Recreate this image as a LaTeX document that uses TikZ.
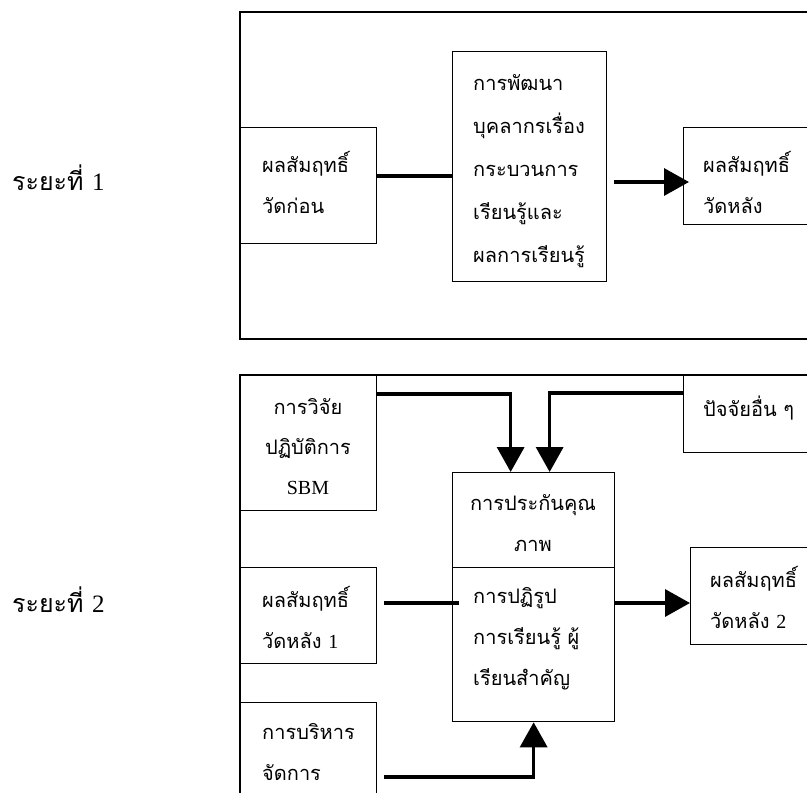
\documentclass[tikz,border=0pt]{standalone}
\usepackage{fontspec}
\setmainfont{Liberation Serif}
\newfontfamily\thaifont[Script=Thai]{Loma}
\usetikzlibrary{arrows.meta}
\tikzset{
  box/.style={draw, line width=1.3pt, inner sep=0pt, anchor=north west},
  txt/.style={font=\thaifont\fontsize{20}{41}\selectfont, align=left, inner sep=0pt},
  txtc/.style={txt, align=center},
  lbl/.style={font=\thaifont\fontsize{25}{28}\selectfont, inner sep=0pt, anchor=base west},
  frame/.style={line width=1.3pt},
  conn/.style={line width=3.5pt},
  arr/.style={conn, -{Triangle[length=25pt,width=27pt]}},
}
\begin{document}
\begin{tikzpicture}[x=1pt,y=-1pt]
\useasboundingbox (0,0) rectangle (807,793);
\clip (0,0) rectangle (807,793);

% stage labels
\node[lbl] (lab1) at (12,190) {ระยะที่ {\rmfamily 1}};
\node[lbl] (lab2) at (12,612) {ระยะที่ {\rmfamily 2}};

% ---------- stage 1 ----------
\draw[frame] (240,12) rectangle (830,339);
\node[box, minimum width=136pt, minimum height=116pt] (b1) at (240,127) {};
\node[box, minimum width=154pt, minimum height=230pt] (m1) at (452,51) {};
\node[box, minimum width=147pt, minimum height=97pt] (r1) at (683,127) {};

\node[txt, anchor=west] (tb1) at (262,182.5) {ผลสัมฤทธิ์\\วัดก่อน};
\node[txt, anchor=west, font=\thaifont\fontsize{20}{43}\selectfont] (tm1) at (473,171) {การพัฒนา\\บุคลากรเรื่อง\\กระบวนการ\\เรียนรู้และ\\ผลการเรียนรู้};
\node[txt, anchor=west] (tr1) at (703,182.5) {ผลสัมฤทธิ์\\วัดหลัง};

\draw[conn] (b1.east |- 0,176) -- (m1.west |- 0,176);
\draw[arr] ([xshift=7pt]m1.east |- 0,182) -- ([xshift=6pt]r1.west |- 0,182);

% ---------- stage 2 ----------
\draw[frame] (830,375) -- (240,375) -- (240,830);
\node[box, minimum width=136pt, minimum height=135pt] (sbm) at (240,375) {};
\node[box, minimum width=147pt, minimum height=77pt] (oth) at (683,375) {};
\node[box, minimum width=162pt, minimum height=95pt] (mtop) at (452,472) {};
\node[box, minimum width=162pt, minimum height=154pt] (mbot) at (452,567) {};
\node[box, minimum width=136pt, minimum height=96pt] (h1) at (240,567) {};
\node[box, minimum width=140pt, minimum height=97pt] (h2) at (690,547) {};
\node[box, minimum width=136pt, minimum height=130pt] (mg) at (240,702) {};

\node[txtc, font=\thaifont\fontsize{20}{40}\selectfont] (tsbm) at (308,447) {การวิจัย\\ปฏิบัติการ\\{\rmfamily SBM}};
\node[txt, anchor=west] (toth) at (703,408) {ปัจจัยอื่น ๆ};
\node[txtc] (tmtop) at (533,523) {การประกันคุณ\\ภาพ};
\node[txt, anchor=west] (tmbot) at (473,639) {การปฏิรูป\\การเรียนรู้ ผู้\\เรียนสำคัญ};
\node[txt, anchor=west] (th1) at (262,617.5) {ผลสัมฤทธิ์\\วัดหลัง {\rmfamily 1}};
\node[txt, anchor=west] (th2) at (710,597) {ผลสัมฤทธิ์\\วัดหลัง {\rmfamily 2}};
\node[txt, anchor=west] (tmg) at (262,752.5) {การบริหาร\\จัดการ};

\draw[arr] (sbm.east |- 0,394) -| ([xshift=-23pt]mtop.north);
\draw[arr] (oth.west |- 0,393) -| ([xshift=16pt]mtop.north);
\draw[conn] ([xshift=7pt]h1.east |- 0,603) -- ([xshift=7pt]mbot.west |- 0,603);
\draw[arr] (mbot.east |- 0,603) -- (h2.west |- 0,603);
\draw[arr] ([xshift=7pt]mg.east |- 0,777) -| (mbot.south);
\end{tikzpicture}
\end{document}
